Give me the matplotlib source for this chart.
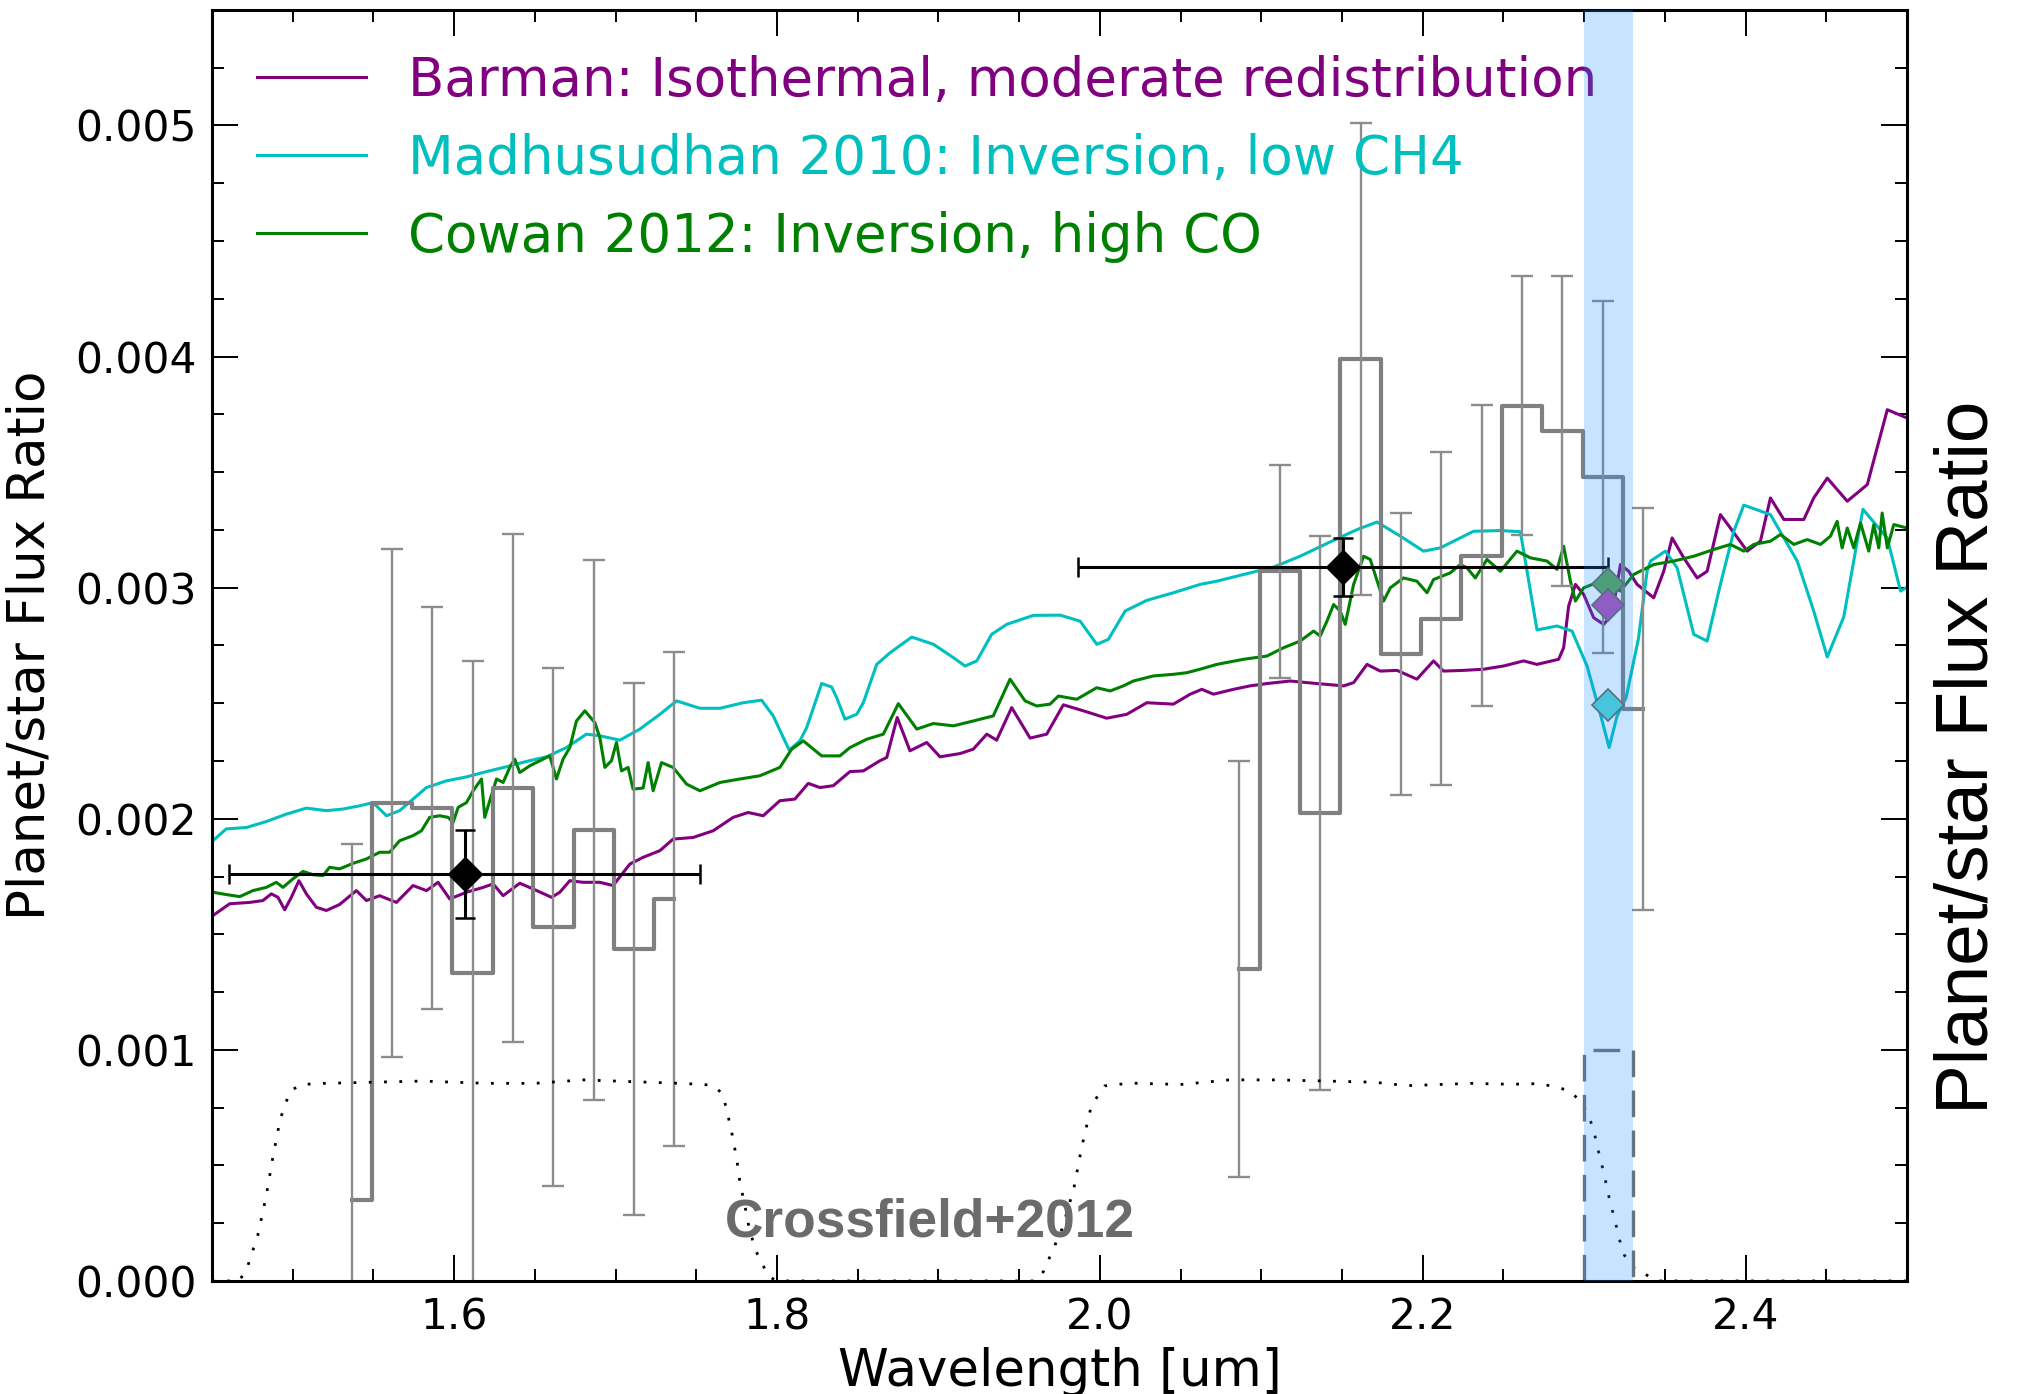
import numpy as np
import matplotlib
matplotlib.use("Agg")
import matplotlib.pyplot as plt
from matplotlib.ticker import MultipleLocator, FormatStrFormatter

# model spectra (wavelength in um, flux ratio in units of 1e-3)
barman_wl = [1.4506, 1.461, 1.4734, 1.4816, 1.4868, 1.4909, 1.4951, 1.4992, 1.5039, 1.5085,
             1.5147, 1.5209, 1.5291, 1.5395, 1.5457, 1.5539, 1.5643, 1.5746, 1.5829, 1.5901,
             1.5973, 1.6077, 1.618, 1.6242, 1.6304, 1.6407, 1.649, 1.6604, 1.6655, 1.6717,
             1.6799, 1.6903, 1.6985, 1.7089, 1.7171, 1.7275, 1.7357, 1.7481, 1.7605, 1.7729,
             1.7822, 1.7915, 1.8018, 1.8111, 1.8194, 1.8266, 1.8349, 1.8452, 1.8535, 1.8638,
             1.868, 1.8745, 1.8824, 1.8928, 1.901, 1.9134, 1.9216, 1.930, 1.9361, 1.9454,
             1.9568, 1.9671, 1.9774, 1.9898, 2.0043, 2.0167, 2.0291, 2.0456, 2.056, 2.0632,
             2.0704, 2.0828, 2.0931, 2.1035, 2.1179, 2.1345, 2.151, 2.1572, 2.1655, 2.1737,
             2.1841, 2.1964, 2.2067, 2.2129, 2.2253, 2.2377, 2.2501, 2.2625, 2.2708, 2.2842,
             2.2873, 2.2904, 2.2946, 2.2997, 2.3059, 2.3121, 2.3173, 2.3225, 2.3276, 2.3328,
             2.3431, 2.3493, 2.3545, 2.3617, 2.370, 2.3762, 2.3844, 2.3906, 2.401, 2.4092,
             2.4154, 2.4237, 2.4361, 2.4422, 2.4506, 2.463, 2.4754, 2.4878, 2.50]
barman_fr = [1.581, 1.632, 1.638, 1.646, 1.675, 1.660, 1.606, 1.660, 1.732, 1.675,
             1.617, 1.603, 1.629, 1.689, 1.646, 1.667, 1.638, 1.711, 1.689, 1.725,
             1.653, 1.682, 1.703, 1.718, 1.667, 1.721, 1.696, 1.660, 1.682, 1.732,
             1.725, 1.725, 1.711, 1.804, 1.833, 1.862, 1.912, 1.919, 1.948, 2.006,
             2.027, 2.013, 2.078, 2.085, 2.153, 2.135, 2.143, 2.204, 2.207, 2.251,
             2.265, 2.438, 2.294, 2.330, 2.268, 2.282, 2.301, 2.366, 2.340, 2.481,
             2.349, 2.366, 2.493, 2.467, 2.435, 2.452, 2.502, 2.496, 2.539, 2.560,
             2.539, 2.560, 2.575, 2.585, 2.596, 2.585, 2.575, 2.589, 2.668, 2.639,
             2.642, 2.604, 2.683, 2.639, 2.642, 2.647, 2.661, 2.683, 2.668, 2.690,
             2.740, 2.920, 3.014, 2.971, 2.870, 2.841, 2.884, 3.100, 3.071, 3.014,
             2.956, 3.071, 3.215, 3.129, 3.042, 3.071, 3.316, 3.258, 3.158, 3.201,
             3.388, 3.295, 3.295, 3.388, 3.474, 3.374, 3.446, 3.770, 3.734]

madhu_wl = [1.4506, 1.4589, 1.4713, 1.4837, 1.4961, 1.5085, 1.5209, 1.5312, 1.5415, 1.5498,
            1.5581, 1.5663, 1.5746, 1.5829, 1.5953, 1.6077, 1.6201, 1.6325, 1.6449, 1.6572,
            1.6696, 1.682, 1.6903, 1.7027, 1.7151, 1.7275, 1.7378, 1.7523, 1.7647, 1.7791,
            1.7905, 1.7977, 1.8076, 1.8142, 1.8184, 1.8277, 1.8339, 1.837, 1.8421, 1.8494,
            1.8535, 1.8618, 1.870, 1.8835, 1.8969, 1.9093, 1.9165, 1.9238, 1.933, 1.9423,
            1.9588, 1.9754, 1.9878, 1.9981, 2.0053, 2.0157, 2.0291, 2.0456, 2.0621, 2.0725,
            2.0931, 2.1076, 2.1241, 2.1427, 2.1593, 2.1717, 2.1861, 2.2005, 2.2109, 2.2212,
            2.2315, 2.2481, 2.2605, 2.2708, 2.2832, 2.2925, 2.3018, 2.310, 2.3155, 2.3204,
            2.326, 2.3336, 2.339, 2.3411, 2.3503, 2.3576, 2.3679, 2.3762, 2.3844, 2.3927,
            2.3989, 2.4154, 2.432, 2.4422, 2.4506, 2.4608, 2.4727, 2.4878, 2.496, 2.50]
madhu_fr = [1.905, 1.956, 1.962, 1.988, 2.020, 2.046, 2.035, 2.042, 2.056, 2.070,
            2.013, 2.035, 2.085, 2.135, 2.164, 2.181, 2.204, 2.225, 2.248, 2.268,
            2.308, 2.366, 2.359, 2.340, 2.388, 2.452, 2.510, 2.478, 2.478, 2.502,
            2.513, 2.445, 2.297, 2.337, 2.394, 2.585, 2.570, 2.524, 2.431, 2.452,
            2.502, 2.668, 2.718, 2.786, 2.755, 2.697, 2.661, 2.683, 2.798, 2.841,
            2.880, 2.881, 2.855, 2.755, 2.776, 2.899, 2.945, 2.978, 3.014, 3.028,
            3.064, 3.089, 3.136, 3.198, 3.251, 3.284, 3.223, 3.158, 3.172, 3.208,
            3.244, 3.247, 3.242, 2.817, 2.834, 2.812, 2.661, 2.454, 2.308, 2.445,
            2.524, 2.778, 3.071, 3.115, 3.158, 3.086, 2.798, 2.769, 3.014, 3.244,
            3.357, 3.316, 3.115, 2.899, 2.700, 2.873, 3.339, 3.214, 2.985, 3.002]

cowan_wl = [1.4506, 1.4589, 1.4672, 1.4754, 1.4837, 1.4899, 1.494, 1.5002, 1.5064, 1.5126,
            1.5188, 1.5229, 1.5291, 1.5374, 1.5457, 1.5539, 1.5601, 1.5663, 1.5746, 1.5798,
            1.5849, 1.5911, 1.5963, 1.5994, 1.6025, 1.6077, 1.6118, 1.617, 1.619, 1.6221,
            1.6263, 1.6304, 1.6345, 1.6376, 1.6407, 1.6469, 1.6551, 1.6593, 1.6634, 1.6675,
            1.6717, 1.6758, 1.681, 1.6872, 1.6903, 1.6934, 1.6975, 1.7006, 1.7037, 1.7078,
            1.7109, 1.7171, 1.7202, 1.7233, 1.7285, 1.7357, 1.744, 1.7523, 1.7647, 1.7771,
            1.7894, 1.8018, 1.8091, 1.8163, 1.8277, 1.839, 1.8452, 1.8556, 1.8659, 1.8752,
            1.8866, 1.8969, 1.9093, 1.9216, 1.934, 1.9444, 1.9537, 1.9609, 1.9692, 1.9743,
            1.9857, 1.9981, 2.0064, 2.0146, 2.0208, 2.0332, 2.0456, 2.0539, 2.0621, 2.0725,
            2.089, 2.1035, 2.1138, 2.1241, 2.1324, 2.1365, 2.1407, 2.1448, 2.1489, 2.152,
            2.1572, 2.1634, 2.1675, 2.1758, 2.1799, 2.1881, 2.1964, 2.2027, 2.2067, 2.2171,
            2.2233, 2.2274, 2.2326, 2.2398, 2.2481, 2.2584, 2.2667, 2.277, 2.2832, 2.2873,
            2.2915, 2.2946, 2.2997, 2.310, 2.3225, 2.3307, 2.3431, 2.3555, 2.3679, 2.3803,
            2.3906, 2.3989, 2.4051, 2.4154, 2.4216, 2.4299, 2.4382, 2.4464, 2.4526, 2.4567,
            2.4598, 2.463, 2.467, 2.4712, 2.4763, 2.4794, 2.4825, 2.4846, 2.4878, 2.4918,
            2.50]
cowan_fr = [1.682, 1.672, 1.663, 1.689, 1.703, 1.725, 1.703, 1.740, 1.772, 1.758,
            1.754, 1.790, 1.783, 1.807, 1.826, 1.855, 1.855, 1.905, 1.927, 1.948,
            2.006, 2.013, 2.006, 1.984, 2.049, 2.070, 2.121, 2.172, 2.006, 2.078,
            2.172, 2.157, 2.222, 2.258, 2.200, 2.229, 2.258, 2.272, 2.172, 2.258,
            2.308, 2.423, 2.467, 2.416, 2.351, 2.222, 2.251, 2.330, 2.207, 2.222,
            2.128, 2.133, 2.243, 2.121, 2.243, 2.222, 2.150, 2.121, 2.157, 2.172,
            2.186, 2.222, 2.301, 2.337, 2.272, 2.272, 2.308, 2.344, 2.366, 2.498,
            2.388, 2.412, 2.402, 2.423, 2.445, 2.604, 2.510, 2.488, 2.496, 2.531,
            2.517, 2.567, 2.553, 2.575, 2.596, 2.618, 2.625, 2.632, 2.647, 2.668,
            2.690, 2.704, 2.740, 2.769, 2.812, 2.791, 2.855, 2.927, 2.899, 2.841,
            3.014, 3.136, 3.122, 2.942, 2.999, 3.042, 3.028, 2.978, 3.035, 3.064,
            3.100, 3.086, 3.042, 3.122, 3.071, 3.158, 3.129, 3.115, 3.079, 3.179,
            3.028, 2.942, 2.999, 3.028, 2.985, 3.057, 3.100, 3.115, 3.136, 3.165,
            3.187, 3.158, 3.187, 3.201, 3.230, 3.187, 3.208, 3.187, 3.223, 3.287,
            3.172, 3.258, 3.172, 3.280, 3.158, 3.273, 3.172, 3.323, 3.172, 3.273,
            3.258]

# Crossfield+2012 binned spectrum (H and K), flux ratio in 1e-3
h_wl = [1.5365, 1.5615, 1.5865, 1.6115, 1.6365, 1.6615, 1.6865, 1.7115, 1.7365]
h_fr = [0.35, 2.068, 2.046, 1.332, 2.133, 1.533, 1.951, 1.437, 1.653]
h_err = [1.54, 1.10, 0.87, 1.35, 1.10, 1.12, 1.17, 1.15, 1.07]
k_wl = [2.0865, 2.1115, 2.1365, 2.1615, 2.1865, 2.2115, 2.2365, 2.2615, 2.2865, 2.3115, 2.3365]
k_fr = [1.35, 3.07, 2.025, 3.99, 2.712, 2.865, 3.139, 3.788, 3.677, 3.479, 2.475]
k_err = [0.90, 0.46, 1.20, 1.02, 0.61, 0.72, 0.65, 0.56, 0.67, 0.76, 0.87]

# broadband points
bb_wl = [1.6066, 2.1506]
bb_fr = [1.761, 3.090]
bb_xerr = [0.146, 0.164]
bb_yerr = [0.19, 0.125]

# model values in the narrow band
nb_wl = 2.3148
nb_cowan, nb_barman, nb_madhu = 3.014, 2.924, 2.492
band_lo, band_hi, box_top = 2.30, 2.33, 1.0

# filter transmission curves (scaled, 1e-3)
filt_wl = [1.45, 1.467, 1.472, 1.4785, 1.4837, 1.4876, 1.4923, 1.4983, 1.505, 1.52,
           1.55, 1.58, 1.60, 1.62, 1.65, 1.68, 1.70, 1.72, 1.74, 1.755,
           1.7611, 1.7663, 1.769, 1.7722, 1.775, 1.777, 1.7801, 1.7829, 1.7868, 1.7919,
           1.7947, 1.80, 1.96, 1.965, 1.9766, 1.9839, 1.9888, 1.9948, 2.003, 2.019,
           2.05, 2.08, 2.11, 2.14, 2.17, 2.19, 2.21, 2.23, 2.2543, 2.2729,
           2.2904, 2.2972, 2.3022, 2.3049, 2.3074, 2.3094, 2.3115, 2.3136, 2.3156, 2.3177,
           2.32, 2.322, 2.3249, 2.3297, 2.3369, 2.345, 2.50]
filt_tr = [0.0, 0.0, 0.06, 0.20, 0.37, 0.53, 0.70, 0.82, 0.85, 0.855,
           0.86, 0.865, 0.86, 0.855, 0.855, 0.87, 0.865, 0.86, 0.855, 0.85,
           0.844, 0.809, 0.737, 0.635, 0.532, 0.43, 0.327, 0.225, 0.132, 0.06,
           0.02, 0.0, 0.0, 0.04, 0.225, 0.40, 0.58, 0.76, 0.844, 0.856,
           0.85, 0.87, 0.87, 0.865, 0.86, 0.845, 0.85, 0.855, 0.851, 0.854,
           0.825, 0.782, 0.724, 0.674, 0.609, 0.544, 0.487, 0.422, 0.357, 0.299,
           0.235, 0.177, 0.112, 0.062, 0.033, 0.0, 0.0]

s = 1e-3

fig = plt.figure(figsize=(20.24, 13.94), dpi=100)
ax = fig.add_axes([0.1047, 0.0811, 0.8375, 0.9118])

ax.plot(barman_wl, np.array(barman_fr) * s, color='purple', lw=2.2,
        label='Barman: Isothermal, moderate redistribution')
ax.plot(madhu_wl, np.array(madhu_fr) * s, color='c', lw=2.2,
        label='Madhusudhan 2010: Inversion, low CH4')
ax.plot(cowan_wl, np.array(cowan_fr) * s, color='g', lw=2.2,
        label='Cowan 2012: Inversion, high CO')

# binned spectrum
for wl, fr, er in [(h_wl, h_fr, h_err), (k_wl, k_fr, k_err)]:
    ax.plot(wl, np.array(fr) * s, drawstyle='steps-mid', color='gray', lw=3.0)
    ax.errorbar(wl, np.array(fr) * s, yerr=np.array(er) * s, fmt='none',
                ecolor='#8c8c8c', elinewidth=1.7, capsize=8, capthick=1.7)

ax.errorbar(bb_wl, np.array(bb_fr) * s, xerr=bb_xerr, yerr=np.array(bb_yerr) * s,
            fmt='D', color='k', ms=17, elinewidth=2.2, capsize=7.5, capthick=1.8, zorder=4)

ax.plot(filt_wl, np.array(filt_tr) * s, color='k', lw=2, ls=(0, (1, 4.5)))

ax.plot([band_lo, band_lo, band_hi, band_hi], [0, box_top * s, box_top * s, 0],
        color='#707070', lw=2.4, ls=(0, (8, 4)))

ax.axvspan(band_lo, band_hi, color='#1e90ff', alpha=0.25, lw=0, zorder=6)

for val, col in [(nb_cowan, '#4e9e7c'), (nb_barman, '#8e5ec4'), (nb_madhu, '#48c4dc')]:
    ax.plot(nb_wl, val * s, 'D', ms=16.5, color=col, mec='#5a6e80', mew=1.2, zorder=7)

ax.text(1.768, 0.253e-3, 'Crossfield+2012', fontsize=38.3, fontweight='bold',
        color='#6b6b6b', family='Liberation Sans', va='center', ha='left')

ax.set_xlim(1.45, 2.5)
ax.set_ylim(0, 0.0055)
ax.xaxis.set_major_locator(MultipleLocator(0.2))
ax.xaxis.set_minor_locator(MultipleLocator(0.05))
ax.yaxis.set_major_locator(MultipleLocator(0.001))
ax.yaxis.set_minor_locator(MultipleLocator(0.00025))
ax.xaxis.set_major_formatter(FormatStrFormatter('%.1f'))
ax.yaxis.set_major_formatter(FormatStrFormatter('%.3f'))
ax.tick_params(which='both', direction='in', top=True, right=True, width=1.4,
               labelsize=30.5, pad=11)
ax.tick_params(which='major', length=19)
ax.tick_params(which='minor', length=8.5)
for sp in ax.spines.values():
    sp.set_linewidth(2.2)

ax.set_xlabel('Wavelength [um]', fontsize=37, labelpad=6)
ax.set_ylabel('Planet/star Flux Ratio', fontsize=37, labelpad=14)

leg = ax.legend(loc='upper left', frameon=False, fontsize=38.2, handlelength=2.05,
                handletextpad=0.8, labelspacing=0.49, bbox_to_anchor=(0.0, 1.0),
                borderaxespad=0.45)
for txt, line in zip(leg.get_texts(), leg.get_lines()):
    txt.set_color(line.get_color())

fig.text(0.9725, 0.457, 'Planet/star Flux Ratio', rotation=90, fontsize=53.7,
         family='Liberation Sans', ha='center', va='center')

fig.savefig('out.png', dpi=100)
